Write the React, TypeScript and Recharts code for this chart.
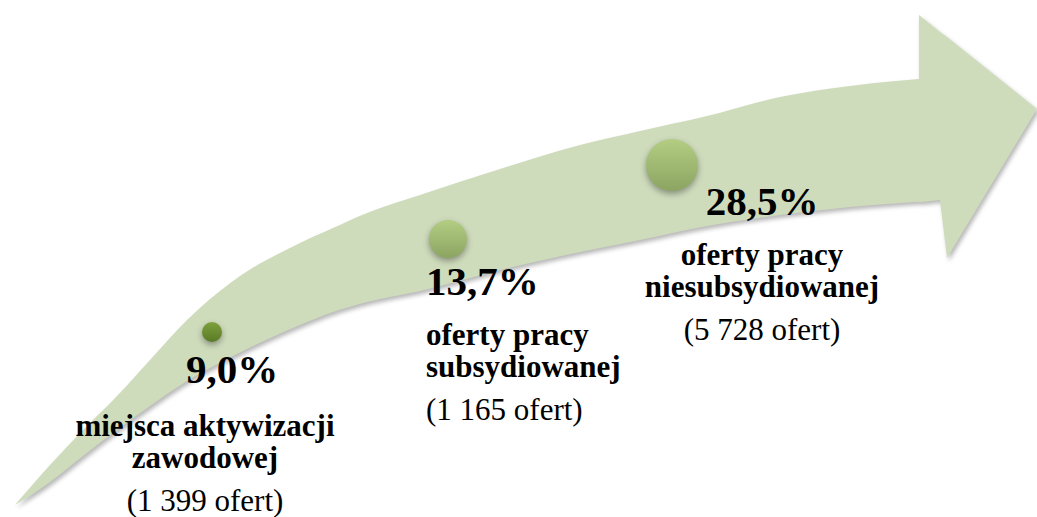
import { Area, ComposedChart, Scatter, XAxis, YAxis } from 'recharts'

const W = 1037
const H = 517

// arrow outline in picture units (x right, y down)
const bodyX = [15, 50, 83, 117, 150, 187, 233, 300, 333, 367, 420, 500, 580, 640, 707, 780, 850, 930]
const bodyTop = [505, 465, 430, 396, 360, 320, 281, 243, 228, 213, 195, 169, 145, 131, 116, 97, 86, 78]
const bodyBottom = [505, 482, 456, 430, 406, 381, 356, 325, 312, 302, 291, 270, 252, 240, 226, 215, 207, 201]

const headX = [919, 940, 947, 1037]
const headTop = [15, 32, 37, 109]
const headBottom = [202, 200, 258, 109]

// steps along the arrow
const stepX = [212, 448, 672]
const stepY = [332, 239, 165]
const percents = ['9,0%', '13,7%', '28,5%']
const descriptions = [
  ['miejsca aktywizacji', 'zawodowej'],
  ['oferty pracy', 'subsydiowanej'],
  ['oferty pracy', 'niesubsydiowanej'],
]
const offers = ['1 399', '1 165', '5 728']

const DOT_R = [10, 19, 26]
const DOT_FILL = ['url(#dotDark)', 'url(#dotLight)', 'url(#dotLight)']
const PCT_POS = [
  { x: 232, y: 383 },
  { x: 426, y: 295 },
  { x: 762, y: 215 },
]
const DESC_POS = [
  { x: 205, y: 436 },
  { x: 426, y: 345 },
  { x: 762, y: 265 },
]
const ANCHOR = ['middle', 'start', 'middle']
const FONT = "'Liberation Serif', 'Times New Roman', serif"

const bodyData = bodyX.map((x, i) => ({ x, top: bodyTop[i], bottom: bodyBottom[i] }))
const headData = headX.map((x, i) => ({ x, top: headTop[i], bottom: headBottom[i] }))
const dotData = stepX.map((x, i) => ({ x, y: stepY[i] }))
const pctData = percents.map((p, i) => ({ ...PCT_POS[i], label: p }))
const descData = descriptions.map((lines, i) => ({ ...DESC_POS[i], lines, offers: offers[i] }))

const layer: React.CSSProperties = { position: 'absolute', left: 0, top: 0 }

function Axes({ withY }: { withY?: boolean }) {
  return (
    <>
      <XAxis type="number" dataKey="x" domain={[0, W]} allowDataOverflow hide />
      <YAxis
        type="number"
        dataKey={withY ? 'y' : undefined}
        domain={[0, H]}
        reversed
        allowDataOverflow
        hide
      />
    </>
  )
}

function Dot(props: any) {
  const { cx, cy, index } = props
  return <circle cx={cx} cy={cy} r={DOT_R[index]} fill={DOT_FILL[index]} />
}

function PctLabel(props: any) {
  const { cx, cy, index, payload } = props
  return (
    <text
      x={cx}
      y={cy}
      textAnchor={ANCHOR[index]}
      fontFamily={FONT}
      fontWeight="bold"
      fontSize={41}
      fill="#000"
    >
      {payload.label}
    </text>
  )
}

function DescLabel(props: any) {
  const { cx, cy, index, payload } = props
  const a = ANCHOR[index]
  return (
    <g fontFamily={FONT} fontSize={31} fill="#000">
      {payload.lines.map((l: string, i: number) => (
        <text key={i} x={cx} y={cy + i * 32} textAnchor={a} fontWeight="bold">
          {l}
        </text>
      ))}
      <text x={cx} y={cy + 75} textAnchor={a}>
        ({payload.offers} ofert)
      </text>
    </g>
  )
}

export default function App() {
  const margin = { top: 0, right: 0, bottom: 0, left: 0 }
  return (
    <div style={{ position: 'fixed', left: 0, top: 0, width: W, height: H, background: '#fff' }}>
      <div style={{ ...layer, width: W, height: H, filter: 'drop-shadow(2px 3px 2px rgba(0,0,0,0.28))' }}>
        <div style={layer}>
          <ComposedChart width={W} height={H} data={bodyData} margin={margin}>
            <Axes />
            <Area
              type="monotone"
              dataKey={(d: any) => [d.bottom, d.top]}
              stroke="none"
              fill="#cfdcbc"
              fillOpacity={1}
              dot={false}
              activeDot={false}
              isAnimationActive={false}
            />
          </ComposedChart>
        </div>
        <div style={layer}>
          <ComposedChart width={W} height={H} data={headData} margin={margin}>
            <Axes />
            <Area
              type="linear"
              dataKey={(d: any) => [d.bottom, d.top]}
              stroke="none"
              fill="#cfdcbc"
              fillOpacity={1}
              dot={false}
              activeDot={false}
              isAnimationActive={false}
            />
          </ComposedChart>
        </div>
      </div>
      <div style={{ ...layer, filter: 'drop-shadow(0px 3px 3px rgba(0,0,0,0.35))' }}>
        <ComposedChart width={W} height={H} margin={margin}>
          <defs>
            <linearGradient id="dotDark" x1="0" y1="0" x2="0" y2="1">
              <stop offset="0%" stopColor="#7ea03c" />
              <stop offset="100%" stopColor="#5b7a27" />
            </linearGradient>
            <linearGradient id="dotLight" x1="0" y1="0" x2="0" y2="1">
              <stop offset="0%" stopColor="#b4cd83" />
              <stop offset="100%" stopColor="#8ba562" />
            </linearGradient>
          </defs>
          <Axes withY />
          <Scatter data={dotData} shape={Dot} isAnimationActive={false} />
        </ComposedChart>
      </div>
      <div style={layer}>
        <ComposedChart width={W} height={H} margin={margin}>
          <Axes withY />
          <Scatter data={pctData} shape={PctLabel} isAnimationActive={false} />
          <Scatter data={descData} shape={DescLabel} isAnimationActive={false} />
        </ComposedChart>
      </div>
    </div>
  )
}
